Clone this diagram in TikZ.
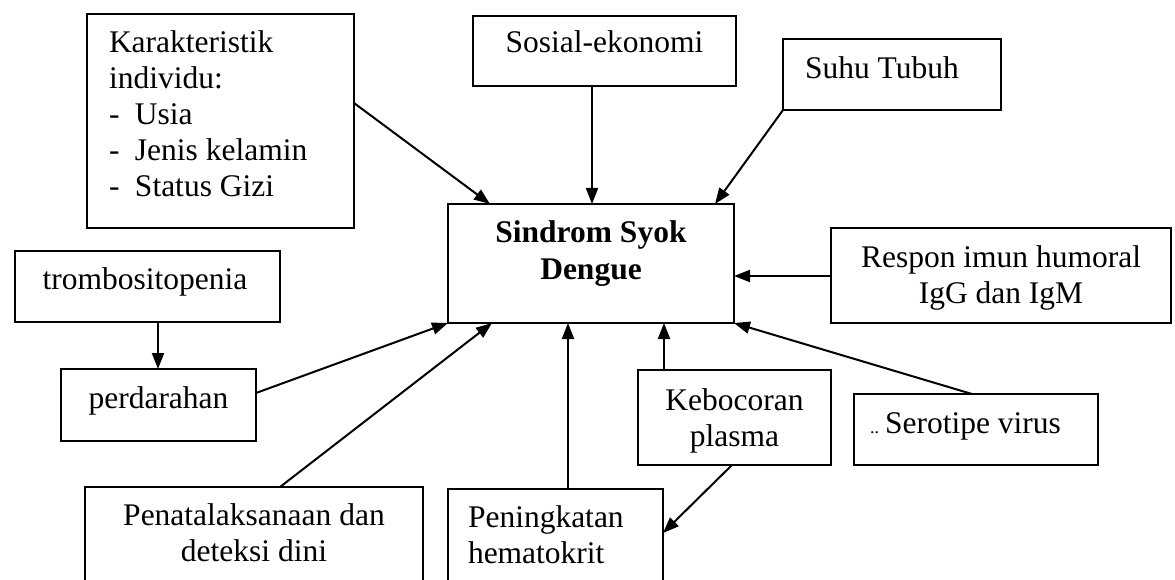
\documentclass[tikz,border=0pt]{standalone}
\usepackage{fontspec}
\setmainfont{Liberation Serif}
\usetikzlibrary{arrows.meta}
\begin{document}
\begin{tikzpicture}[x=1pt,y=-1pt,
  box/.style={draw, line width=2.2pt, inner sep=0pt, outer sep=0pt},
  txt/.style={inner sep=0pt, outer sep=0pt, font=\fontsize{31.5}{36}\selectfont},
  arr/.style={draw, line width=2pt, -{Triangle[length=16pt,width=12pt]}}]
\useasboundingbox (0,0) rectangle (1175,580);
\clip (0,0) rectangle (1175,580);
\fill[white] (0,0) rectangle (1175,580);
% boxes
\node[box, minimum width=267pt, minimum height=214pt] (kar) at (220.5,121) {};
\node[box, minimum width=263pt, minimum height=70pt] (sos) at (604.5,51) {};
\node[box, minimum width=218pt, minimum height=71pt] (suhu) at (892,74.5) {};
\node[box, minimum width=286pt, minimum height=119pt] (ssd) at (591,263.5) {};
\node[box, minimum width=340pt, minimum height=95pt] (resp) at (1001,275.5) {};
\node[box, minimum width=265pt, minimum height=71pt] (tromb) at (147.5,286.5) {};
\node[box, minimum width=195pt, minimum height=72pt] (perd) at (158.5,405) {};
\node[box, minimum width=193pt, minimum height=95pt] (keb) at (734.5,417.5) {};
\node[box, minimum width=244pt, minimum height=71pt] (sero) at (976,429.5) {};
\node[box, minimum width=338pt, minimum height=113pt] (pen) at (254,543.5) {};
\node[box, minimum width=215pt, minimum height=111pt] (pening) at (555.5,544.5) {};
% texts
\node[txt, anchor=north west, align=left] (kar-t) at (109,27.8)
  {\strut Karakteristik\\individu:\\\makebox[26pt][l]{-}Usia\\\makebox[26pt][l]{-}Jenis kelamin\\\makebox[26pt][l]{-}Status Gizi};
\node[txt, anchor=base] (sos-t) at (604.5,53) {Sosial-ekonomi};
\node[txt, anchor=base west] (suhu-t) at (805,79) {Suhu Tubuh};
\node[txt, anchor=north, align=center, font=\fontsize{31.5}{36}\selectfont\bfseries] (ssd-t) at (591,217.8) {\strut Sindrom Syok\\Dengue};
\node[txt, anchor=north, align=center] (resp-t) at (1001,241.8) {\strut Respon imun humoral\\IgG dan IgM};
\node[txt, anchor=base] (tromb-t) at (145,289) {trombositopenia};
\node[txt, anchor=base] (perd-t) at (158.5,408) {perdarahan};
\node[txt, anchor=north, align=center] (keb-t) at (734.5,384.8) {\strut Kebocoran\\plasma};
\node[txt, anchor=base west] (sero-t) at (870,433) {{\fontsize{18}{18}\selectfont..}\hspace{6pt}Serotipe virus};
\node[txt, anchor=north, align=center] (pen-t) at (254,499.8) {\strut Penatalaksanaan dan\\deteksi dini};
\node[txt, anchor=north west, align=left] (pening-t) at (468,501.8) {\strut Peningkatan\\hematokrit};
% connectors
\draw[arr] (kar.east |- 0,103) -- (ssd.north -| 490,0);
\draw[arr] (sos.south -| 592,0) -- (ssd.north -| 592,0);
\draw[arr] (suhu.south west) -- (ssd.north -| 715,0);
\draw[arr] (resp.west |- 0,276) -- (ssd.east |- 0,276);
\draw[arr] (tromb.south -| 158,0) -- (perd.north -| 158,0);
\draw[arr] (perd.east |- 0,393) -- (ssd.south west);
\draw[arr] (pen.north -| 280,0) -- (ssd.south -| 492,0);
\draw[arr] (pening.north -| 568,0) -- (ssd.south -| 568,0);
\draw[arr] (keb.north -| 664,0) -- (ssd.south -| 664,0);
\draw[arr] (keb.south -| 732,0) -- (pening.east |- 0,533);
\draw[arr] (sero.north -| 972,0) -- (ssd.south east);
\end{tikzpicture}
\end{document}
